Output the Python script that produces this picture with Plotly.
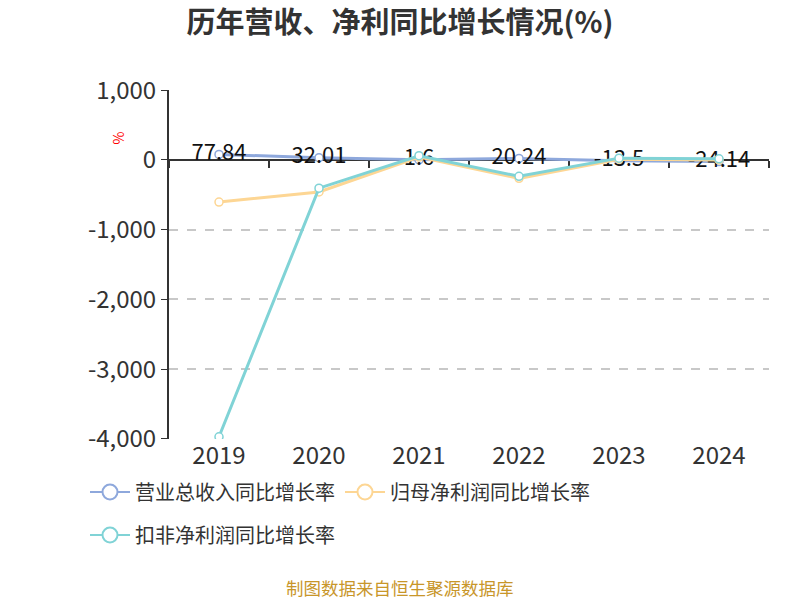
import plotly.graph_objects as go

years = ["2019", "2020", "2021", "2022", "2023", "2024"]
revenue_growth = [77.84, 32.01, 1.6, 20.24, -13.5, -24.14]
parent_profit_growth = [-605, -460, 40, -265, 10, 0]
deducted_profit_growth = [-3970, -405, 60, -235, 25, 15]
series_names = ["营业总收入同比增长率", "归母净利润同比增长率", "扣非净利润同比增长率"]
yticks = [1000, 0, -1000, -2000, -3000, -4000]
ytick_text = ["1,000", "0", "-1,000", "-2,000", "-3,000", "-4,000"]

c_blue = "#8ea8dc"
c_orange = "#fdd694"
c_teal = "#80d3d6"
colors = [c_blue, c_orange, c_teal]

fig = go.Figure()
fig.add_trace(go.Scatter(
    x=years, y=revenue_growth, name=series_names[0], showlegend=False,
    mode="lines+markers+text", text=[str(v) for v in revenue_growth],
    textposition="middle center", textfont=dict(size=22, color="#111"),
    line=dict(color=c_blue, width=3),
    marker=dict(size=8, color="white", line=dict(color=c_blue, width=1.5))))
fig.add_trace(go.Scatter(
    x=years, y=parent_profit_growth, name=series_names[1], showlegend=False,
    mode="lines+markers",
    line=dict(color=c_orange, width=3),
    marker=dict(size=8, color="white", line=dict(color=c_orange, width=1.5))))
fig.add_trace(go.Scatter(
    x=years, y=deducted_profit_growth, name=series_names[2], showlegend=False,
    mode="lines+markers",
    line=dict(color=c_teal, width=3),
    marker=dict(size=8, color="white", line=dict(color=c_teal, width=1.5))))
# legend entries (larger symbols as in the reference)
for i, (nm, col) in enumerate(zip(series_names, colors)):
    fig.add_trace(go.Scatter(
        x=[None], y=[None], name=nm, mode="lines+markers",
        legend="legend" if i < 2 else "legend2",
        line=dict(color=col, width=2),
        marker=dict(size=15, color="white", line=dict(color=col, width=2)),
        hoverinfo="skip"))
# invisible trace to create the zero-line axis with boundary ticks
fig.add_trace(go.Scatter(x=years, y=[0]*len(years), xaxis="x2", mode="none",
                         showlegend=False, hoverinfo="skip"))

legend_common = dict(orientation="h", xanchor="left", yanchor="middle",
                     font=dict(size=20, color="#333"), itemwidth=40,
                     bgcolor="rgba(0,0,0,0)")

fig.update_layout(
    width=800, height=600,
    paper_bgcolor="white", plot_bgcolor="white",
    margin=dict(l=169, r=31, t=90, b=161),
    font=dict(family="Noto Sans CJK SC, sans-serif", color="#333"),
    title=dict(text="<b>历年营收、净利同比增长情况(%)</b>", x=0.5, xanchor="center",
               y=0.962, yanchor="middle", font=dict(size=29, color="#333")),
    xaxis=dict(type="category", showline=False, showgrid=False, ticks="",
               tickfont=dict(size=24, color="#333"), range=[-0.5, 5.5]),
    xaxis2=dict(type="category", overlaying="x", anchor="free", side="bottom",
                position=(4002/5004), matches="x", showline=True, linecolor="#333",
                linewidth=2, ticks="outside", tickson="boundaries", ticklen=7,
                tickcolor="#333", tickwidth=1.5, showticklabels=False, showgrid=False,
                layer="below traces"),
    yaxis=dict(range=[-4002, 1002], tickvals=yticks, ticktext=ytick_text,
               showline=True, linecolor="#333", linewidth=2, ticks="outside",
               ticklen=6, tickcolor="#333",
               showgrid=True, gridcolor="#c8c8c8", griddash="dash", gridwidth=1.5,
               zeroline=False, tickfont=dict(size=24, color="#333")),
    legend=dict(x=-0.14, y=(439-492)/349, entrywidth=200, **legend_common),
    legend2=dict(x=-0.14, y=(439-535)/349, **legend_common),
    annotations=[
        dict(text="%", x=(105-169)/600, y=(439-130)/349, xref="paper", yref="paper",
             showarrow=False, textangle=-90, font=dict(size=14, color="red")),
        dict(text="制图数据来自恒生聚源数据库", x=(400-169)/600, y=(439-587)/349,
             xref="paper", yref="paper", xanchor="center", yanchor="middle",
             showarrow=False, font=dict(size=17.5, color="#c8962a")),
    ],
)

fig.write_html("out.html", config={"displayModeBar": False},
               post_script="document.body.style.margin='0';")
